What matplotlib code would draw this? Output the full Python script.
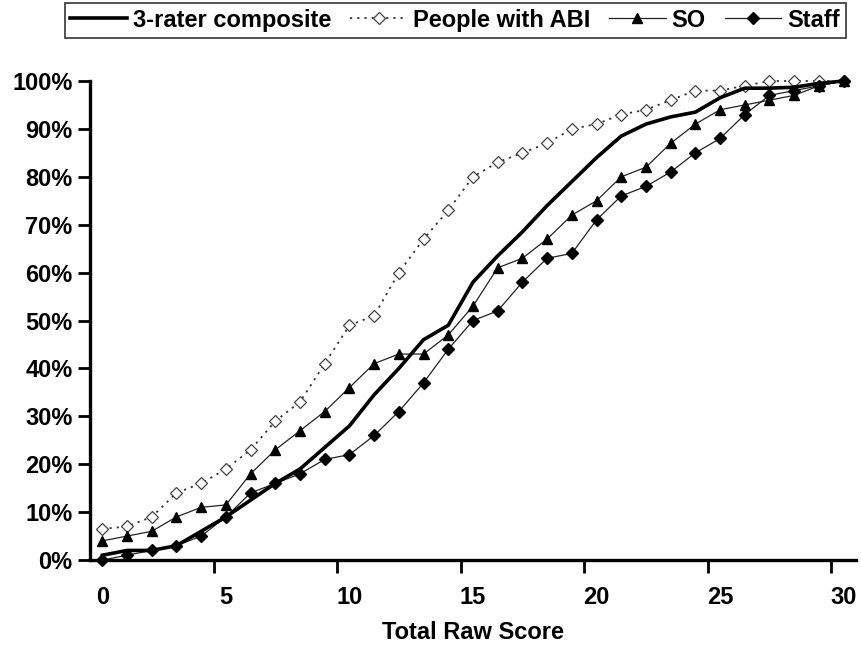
import numpy as np
from matplotlib import pyplot as plt

# total raw score categories 0..30
scores = list(range(31))

# cumulative percentages
composite = [1, 2, 2, 3, 6, 9, 12.5, 16, 19, 23.5, 28, 34.5, 40, 46, 49, 58, 63.5,
             68.5, 74, 79, 84, 88.5, 91, 92.5, 93.5, 96.5, 98.5, 98.5, 98.7, 99.5, 100]
abi = [6.5, 7, 9, 14, 16, 19, 23, 29, 33, 41, 49, 51, 60, 67, 73, 80, 83, 85, 87, 90,
       91, 93, 94, 96, 98, 98, 99, 100, 100, 100, 100]
so = [4, 5, 6, 9, 11, 11.5, 18, 23, 27, 31, 36, 41, 43, 43, 47, 53, 61, 63, 67, 72,
      75, 80, 82, 87, 91, 94, 95, 96, 97, 99, 100]
staff = [0, 1, 2, 3, 5, 9, 14, 16, 18, 21, 22, 26, 31, 37, 44, 50, 52, 58, 63, 64,
         71, 76, 78, 81, 85, 88, 93, 97, 98, 99, 100]

ytick_vals = list(range(0, 101, 10))
xtick_vals = list(range(0, 31, 5))

plt.rcParams['font.family'] = ['Liberation Sans', 'DejaVu Sans']
plt.rcParams['font.weight'] = 'bold'

fig = plt.figure(figsize=(8.62, 6.49), dpi=100)
ax = fig.add_axes([0.1044, 0.1371, 0.8886, 0.7381])

ax.plot(scores, composite, color='black', lw=2.6, solid_joinstyle='round',
        label='3-rater composite', clip_on=False, zorder=4)
ax.plot(scores, abi, color='#333333', lw=1.3, ls=(0, (1.2, 2.8)), marker='D',
        ms=6.5, mfc='white', mec='#444444', mew=0.9,
        label='People with ABI', clip_on=False, zorder=3)
ax.plot(scores, so, color='#222222', lw=0.9, marker='^', ms=7, mfc='black',
        mec='black', label='SO', clip_on=False, zorder=3)
ax.plot(scores, staff, color='#222222', lw=0.9, marker='D', ms=6, mfc='black',
        mec='black', label='Staff', clip_on=False, zorder=3)

ax.set_xlim(-0.5, 30.5)
ax.set_ylim(0, 100)

# tick marks sit between categories, labels on the categories
ax.set_xticks([v - 0.5 for v in xtick_vals[1:]])
ax.set_xticklabels([])
ax.set_xticks(xtick_vals, minor=True)
ax.set_xticklabels([str(v) for v in xtick_vals], minor=True)
ax.tick_params(axis='x', which='major', direction='out', length=9, width=2)
ax.tick_params(axis='x', which='minor', length=0, pad=19, labelsize=17)

ax.set_yticks(ytick_vals)
ax.set_yticklabels([f'{v}%' for v in ytick_vals])
ax.tick_params(axis='y', direction='out', length=9, width=2, labelsize=17, pad=3.5)

for side in ['top', 'right']:
    ax.spines[side].set_visible(False)
for side in ['left', 'bottom']:
    ax.spines[side].set_linewidth(2.4)

ax.set_xlabel('Total Raw Score', fontsize=17, fontweight='bold', labelpad=8)

leg = fig.legend(loc='center', bbox_to_anchor=(0.528, 0.969), ncol=4,
                 fontsize=17, frameon=True, fancybox=False, handlelength=2.4,
                 handletextpad=0.25, columnspacing=0.8, borderpad=0.25)
leg.get_frame().set_edgecolor('black')
leg.get_frame().set_linewidth(1.2)

fig.savefig('out.png', dpi=100)
